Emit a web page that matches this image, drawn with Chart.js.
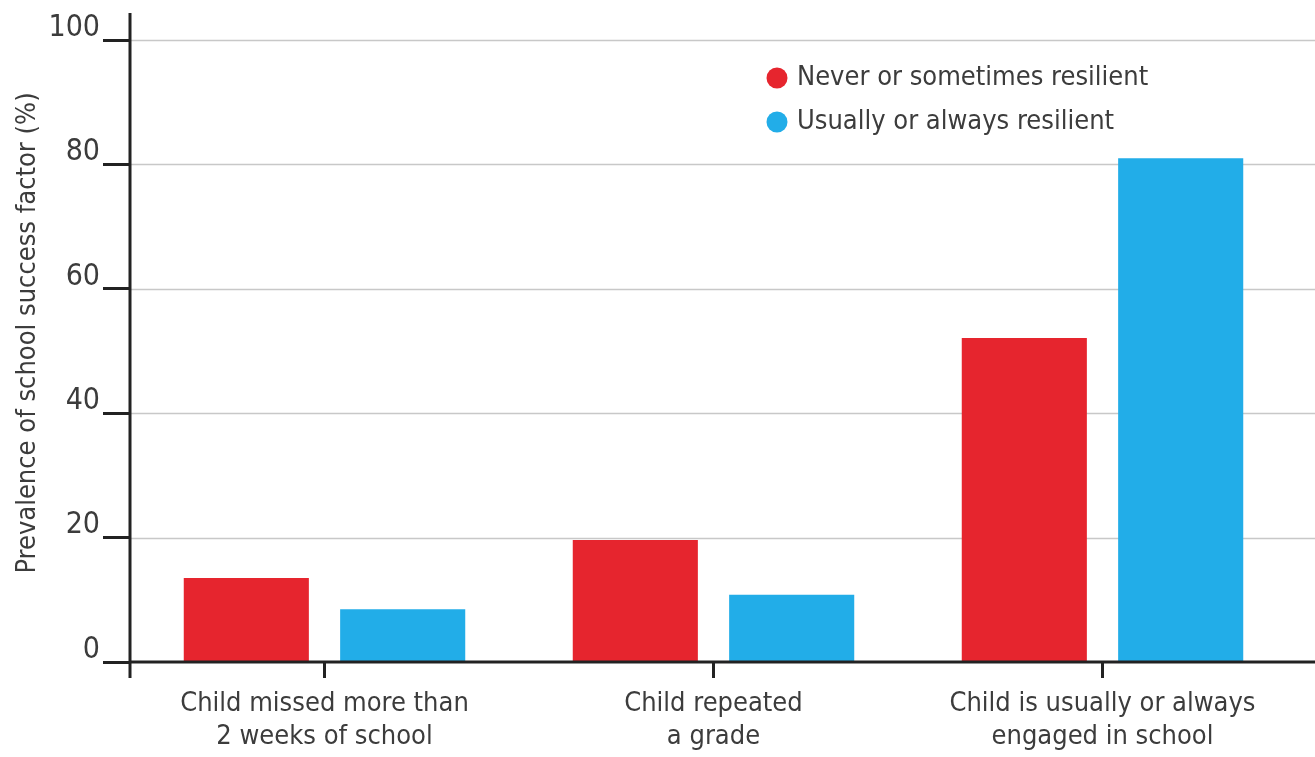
<!DOCTYPE html>
<html>
<head>
<meta charset="utf-8">
<script src="https://cdn.jsdelivr.net/npm/chart.js@4/dist/chart.umd.min.js"></script>
<style>
  html, body { margin: 0; padding: 0; background: #fff; }
  #wrap { width: 1315px; height: 757px; position: relative; }
</style>
</head>
<body>
<div id="wrap"><canvas id="c" width="1315" height="757"></canvas></div>
<script>
const categories = [
  ['Child missed more than', '2 weeks of school'],
  ['Child repeated', 'a grade'],
  ['Child is usually or always', 'engaged in school']
];
const seriesNames = ['Never or sometimes resilient', 'Usually or always resilient'];
const neverResilient = [13.5, 19.6, 52.1];
const usuallyResilient = [8.5, 10.8, 81.0];
const yTicks = [0, 20, 40, 60, 80, 100];
const yTitle = 'Prevalence of school success factor (%)';

const RED = '#e6252e';
const BLUE = '#22ade8';
const INK = '#222222';
const TEXT = '#3c3c3c';
const GRID = '#c8c8c8';
const FONT = '"DejaVu Sans Condensed", "DejaVu Sans", sans-serif';

// Horizontal grid lines running to the right edge, and the heavy axis lines
const axesPlugin = {
  id: 'axesPlugin',
  beforeDatasetsDraw(chart) {
    const { ctx, chartArea, scales } = chart;
    const y = scales.y;
    ctx.save();
    ctx.strokeStyle = GRID;
    ctx.lineWidth = 1.5;
    yTicks.forEach(v => {
      if (v === 0) return;
      const py = Math.round(y.getPixelForValue(v)) + 0.5;
      ctx.beginPath();
      ctx.moveTo(chartArea.left, py);
      ctx.lineTo(chart.width, py);
      ctx.stroke();
    });
    ctx.restore();
  },
  afterDatasetsDraw(chart) {
    const { ctx, chartArea, scales } = chart;
    const y = scales.y;
    const y0 = y.getPixelForValue(0);
    ctx.save();
    ctx.strokeStyle = INK;
    ctx.lineWidth = 3;
    ctx.beginPath();
    ctx.moveTo(chartArea.left, y0);
    ctx.lineTo(chart.width, y0);
    ctx.stroke();
    ctx.beginPath();
    ctx.moveTo(chartArea.left, y.getPixelForValue(100) - 27);
    ctx.lineTo(chartArea.left, y0 + 16);
    ctx.stroke();
    ctx.restore();
  },
  afterDraw(chart) {
    // rotated value-axis title
    const { ctx } = chart;
    ctx.save();
    ctx.translate(28, 333);
    ctx.rotate(-Math.PI / 2);
    ctx.font = '27px ' + FONT;
    ctx.fillStyle = TEXT;
    ctx.textAlign = 'center';
    ctx.textBaseline = 'middle';
    ctx.fillText(yTitle, 0, 0);
    ctx.restore();
  }
};

// Legend placed inside the plot area with round markers
const innerLegend = {
  id: 'innerLegend',
  afterDraw(chart) {
    const { ctx } = chart;
    const x0 = 777, yStart = 78, step = 44;
    ctx.save();
    ctx.font = '27px ' + FONT;
    ctx.textBaseline = 'middle';
    chart.data.datasets.forEach((ds, i) => {
      const yy = yStart + i * step;
      ctx.fillStyle = ds.backgroundColor;
      ctx.beginPath();
      ctx.arc(x0, yy, 10.5, 0, Math.PI * 2);
      ctx.fill();
      ctx.fillStyle = TEXT;
      ctx.fillText(ds.label, x0 + 20, yy);
    });
    ctx.restore();
  }
};

new Chart(document.getElementById('c'), {
  type: 'bar',
  data: {
    labels: categories,
    datasets: [
      { label: seriesNames[0], data: neverResilient, backgroundColor: RED },
      { label: seriesNames[1], data: usuallyResilient, backgroundColor: BLUE }
    ]
  },
  options: {
    responsive: false,
    animation: false,
    barPercentage: 0.8,
    categoryPercentage: 0.804,
    layout: { padding: { top: 40, right: 18, left: 0, bottom: 0 } },
    plugins: {
      legend: { display: false },
      tooltip: { enabled: false }
    },
    scales: {
      x: {
        border: { display: false },
        grid: {
          offset: false,
          drawOnChartArea: false,
          drawTicks: true,
          tickLength: 16,
          tickColor: INK,
          tickWidth: 3
        },
        ticks: {
          color: TEXT,
          font: { family: FONT, size: 27, lineHeight: 1.22 },
          padding: 10,
          maxRotation: 0,
          autoSkip: false
        },
        afterFit(scale) { scale.height = 95; }
      },
      y: {
        min: 0,
        max: 100,
        border: { display: false },
        afterBuildTicks(scale) { scale.ticks = yTicks.map(v => ({ value: v })); },
        grid: {
          drawOnChartArea: false,
          drawTicks: true,
          tickLength: 27,
          tickColor: INK,
          tickWidth: 3
        },
        ticks: {
          color: TEXT,
          // an empty second line lifts each number to sit just above its tick
          callback: v => [String(v), ''],
          font: { family: FONT, size: 30, lineHeight: 0.8 },
          padding: 3
        },
        title: { display: false },
        afterFit(scale) { scale.width = 130; }
      }
    }
  },
  plugins: [axesPlugin, innerLegend]
});
</script>
</body>
</html>
